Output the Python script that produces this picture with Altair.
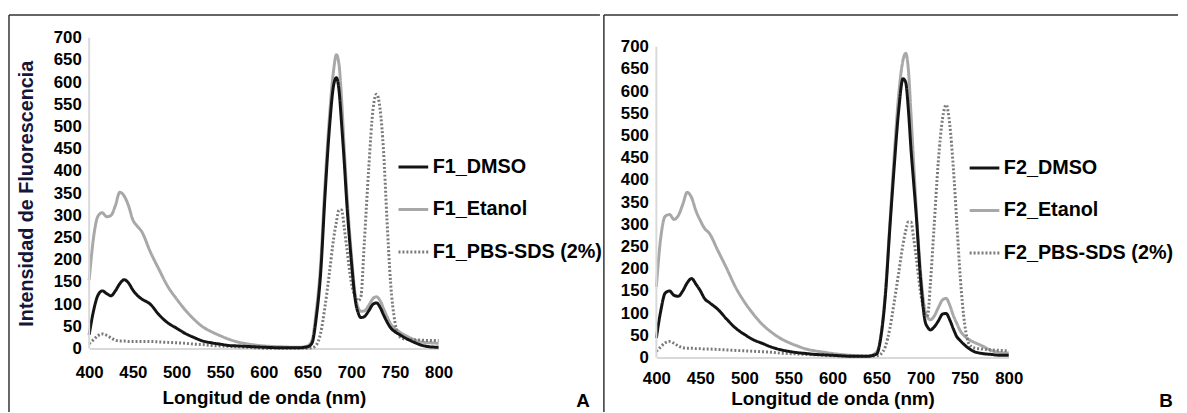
import altair as alt
import pandas as pd

# ---------------- data ----------------
WL = [400, 405, 410, 415, 420, 425, 430, 435, 440, 445,
      450, 455, 460, 470, 480, 490, 500, 510, 520, 530,
      540, 550, 560, 570, 580, 590, 600, 620, 640, 650,
      655, 660, 665, 670, 675, 680, 683, 686, 689, 692,
      695, 700, 705, 708, 711, 715, 720, 725, 729, 733,
      737, 741, 745, 750, 755, 760, 770, 780, 790, 800]

F1_DMSO = [31, 85, 120, 130, 124, 119, 130, 146, 155, 148,
           132, 120, 112, 100, 76, 58, 46, 34, 25, 17,
           13, 10, 7, 6, 5, 4, 3, 2, 2, 4,
           12, 70, 170, 345, 495, 595, 610, 582, 505, 420,
           325, 200, 105, 80, 70, 72, 85, 100, 103, 93,
           76, 60, 47, 38, 32, 26, 16, 8, 4, 3]

F1_ETANOL = [154, 250, 298, 306, 297, 300, 322, 352, 344, 322,
             290, 276, 264, 218, 178, 140, 112, 87, 66, 49,
             38, 29, 21, 15, 11, 8, 6, 4, 3, 6,
             18, 85, 190, 370, 520, 630, 662, 640, 560, 450,
             350, 215, 115, 92, 84, 85, 97, 113, 117, 108,
             90, 72, 56, 45, 38, 32, 22, 15, 13, 12]

F1_PBS = [11, 20, 29, 33, 30, 24, 19, 17, 17, 16,
          16, 16, 16, 16, 15, 14, 13, 12, 10, 9,
          7, 6, 5, 4, 3, 2, 1, 1, 1, 1,
          2, 8, 35, 95, 170, 250, 285, 312, 312, 272,
          225, 150, 115, 108, 116, 240, 405, 540, 573, 540,
          445, 287, 150, 60, 28, 22, 20, 19, 18, 18]

F2_DMSO = [44, 105, 145, 150, 140, 138, 150, 168, 178, 165,
           150, 132, 124, 108, 86, 66, 52, 40, 32, 24,
           18, 14, 11, 9, 7, 6, 5, 3, 3, 8,
           48, 140, 290, 430, 555, 628, 620, 560, 470, 395,
           320, 175, 82, 68, 62, 68, 82, 98, 99, 85,
           65, 47, 38, 28, 20, 14, 9, 7, 5, 5]

F2_ETANOL = [159, 270, 318, 322, 311, 320, 345, 372, 360, 330,
             308, 290, 280, 240, 200, 158, 125, 98, 75, 58,
             44, 34, 26, 19, 15, 12, 9, 5, 3, 12,
             52, 150, 300, 455, 590, 670, 685, 650, 550, 440,
             335, 190, 105, 90, 85, 92, 112, 130, 133, 118,
             95, 77, 60, 48, 40, 35, 26, 16, 11, 10]

F2_PBS = [14, 24, 33, 36, 32, 26, 22, 21, 21, 20,
          20, 19, 19, 18, 17, 16, 15, 14, 13, 12,
          10, 9, 8, 7, 6, 5, 4, 3, 3, 4,
          8, 25, 65, 125, 190, 255, 285, 305, 305, 270,
          225, 145, 100, 95, 165, 287, 440, 540, 569, 525,
          430, 305, 180, 75, 30, 22, 19, 17, 16, 15]

NAMES_1 = ["F1_DMSO", "F1_Etanol", "F1_PBS-SDS (2%)"]
NAMES_2 = ["F2_DMSO", "F2_Etanol", "F2_PBS-SDS (2%)"]
X_TICKS = list(range(400, 801, 50))
Y_TICKS = list(range(0, 701, 50))
Y_LIMITS = [0, 700]
X_TITLE = "Longitud de onda (nm)"
Y_TITLE = "Intensidad de Fluorescencia"

# ---------------- styling ----------------
FONT = "Liberation Sans"
COLORS = ["#141414", "#a8a8a8", "#7a7a7a"]
DASHES = [[1, 0], [1, 0], [2, 2]]
WIDTHS = [3, 3, 2.5]
BORDER = "#333333"
AXIS_GRAY = "#d9d9d9"


def long_df(names, series):
    rows = []
    # draw order: Etanol, PBS, DMSO (DMSO on top)
    for idx in (1, 2, 0):
        for w, v in zip(WL, series[idx]):
            rows.append({"nm": w, "val": v, "serie": names[idx]})
    return pd.DataFrame(rows)


def panel(names, series, w, h, ymax, lx, ly, ytitle, label_pad, title_pad, label, label_xy, rules):
    df = long_df(names, series)
    leg = alt.Legend(title=None, orient="none", legendX=lx, legendY=ly,
                     symbolType="stroke", symbolSize=900, labelFont=FONT,
                     labelFontSize=20, labelFontWeight="bold", labelColor="black",
                     labelLimit=400, labelOffset=3, rowPadding=16, padding=0)
    yaxis_kwargs = dict(values=Y_TICKS, grid=False, ticks=False, tickSize=0,
                        domain=False,
                        labelFont=FONT, labelFontSize=17, labelFontWeight="bold",
                        labelColor="black", labelPadding=8, format="d",
                        labelOverlap=False)
    if ytitle:
        yaxis_kwargs.update(title=ytitle, titleFont=FONT, titleFontSize=20,
                            titleFontWeight="bold", titleColor="#16163a",
                            titlePadding=17)
    else:
        yaxis_kwargs.update(title=None)
    y_scale = alt.Scale(domain=[0, ymax], nice=False)
    x_enc = alt.X("nm:Q", scale=alt.Scale(domain=[400, 800], nice=False, zero=False),
                  axis=alt.Axis(values=X_TICKS, title=X_TITLE, grid=False, ticks=False,
                                tickSize=0, domainColor=AXIS_GRAY, domainWidth=2,
                                labelFont=FONT, labelFontSize=17, labelFontWeight="bold",
                                labelColor="black", labelPadding=label_pad, format="d",
                                labelOverlap=False, labelFlush=False,
                                titleFont=FONT, titleFontSize=19, titleFontWeight="bold",
                                titleColor="black", titlePadding=title_pad))
    lines = alt.Chart(df).mark_line(interpolate="monotone", strokeCap="butt").encode(
        x=x_enc,
        y=alt.Y("val:Q", scale=y_scale, axis=alt.Axis(**yaxis_kwargs)),
        color=alt.Color("serie:N", scale=alt.Scale(domain=names, range=COLORS), legend=leg),
        strokeDash=alt.StrokeDash("serie:N", scale=alt.Scale(domain=names, range=DASHES), legend=leg),
        strokeWidth=alt.StrokeWidth("serie:N", scale=alt.Scale(domain=names, range=WIDTHS), legend=leg),
        detail="serie:N",
    )
    deco = pd.DataFrame({"k": [0]})
    # y axis line from 0 to 700 only (through the y scale)
    yline = alt.Chart(pd.DataFrame({"lo": [Y_LIMITS[0]], "hi": [Y_LIMITS[1]]})).mark_rule(
        color=AXIS_GRAY, strokeWidth=2).encode(
        x=alt.value(0),
        y=alt.Y("lo:Q", scale=y_scale, axis=alt.Axis(**yaxis_kwargs)),
        y2="hi:Q")
    layers = [lines, yline]
    for r in rules:
        if r[0] == "h":
            _, x0, x1, yy = r
            layers.append(alt.Chart(deco).mark_rule(color=BORDER, strokeWidth=1.5).encode(
                x=alt.value(x0), x2=alt.value(x1), y=alt.value(yy)))
        else:
            _, xx, y0, y1 = r
            layers.append(alt.Chart(deco).mark_rule(color=BORDER, strokeWidth=1.5).encode(
                x=alt.value(xx), y=alt.value(y0), y2=alt.value(y1)))
    layers.append(alt.Chart(deco).mark_text(text=label, font=FONT, fontSize=19,
                                            fontWeight="bold", color="black").encode(
        x=alt.value(label_xy[0]), y=alt.value(label_xy[1])))
    return alt.layer(*layers).properties(width=w, height=h)


left = panel(NAMES_1, [F1_DMSO, F1_ETANOL, F1_PBS], 353, 314, 700, 311, 114, Y_TITLE, 16, 8, "A",
             (499, 367),
             [("h", -81, 516, -23), ("v", -81, -23, 378)])
right = panel(NAMES_2, [F2_DMSO, F2_ETANOL, F2_PBS], 356, 323, 720, 315, 115, None, 13, 3, "B",
              (515, 367),
              [("h", -53, 527, -23), ("v", -53, -23, 378)])

chart = alt.hconcat(left, right, spacing=0).resolve_scale(
    color="independent", strokeDash="independent", strokeWidth="independent"
).resolve_legend(
    color="independent", strokeDash="independent", strokeWidth="independent"
).properties(
    padding={"top": 4, "left": 0, "right": 0, "bottom": 0}
).configure_view(stroke=None)

chart.save("out.html", embed_options={"renderer": "svg", "actions": False})
